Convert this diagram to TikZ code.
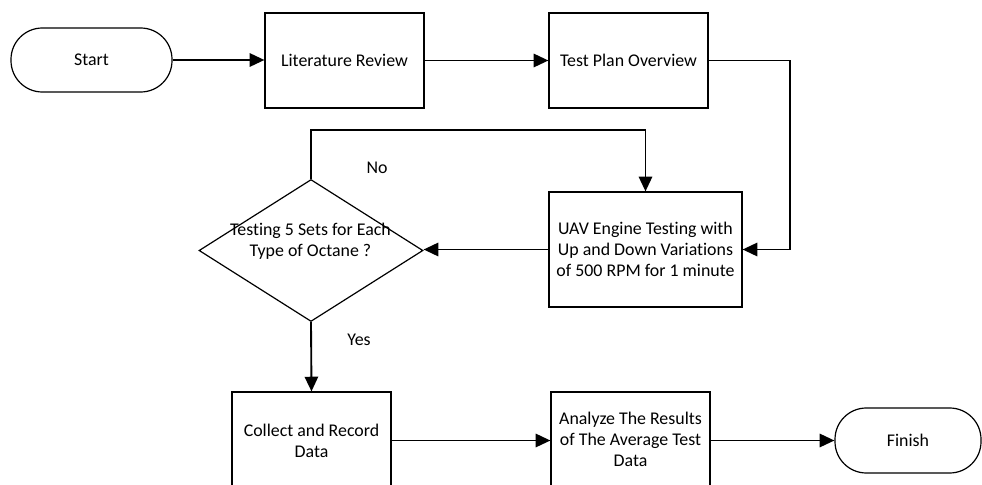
\documentclass[tikz,border=0pt]{standalone}
\usepackage{fontspec}
\setmainfont{Carlito}[Ligatures=NoCommon]
\usetikzlibrary{arrows.meta,shapes.geometric}
\begin{document}
\begin{tikzpicture}[x=0.75pt,y=-0.75pt,
  font=\fontsize{13.4}{15.75}\selectfont,
  box/.style={draw,line width=0.9pt,inner sep=0pt},
  term/.style={box,rounded corners=23.5pt},
  lbl/.style={align=center,inner sep=0pt},
  arr/.style={line width=1.4pt,-{Triangle[length=11pt,width=10pt]}},
  ln/.style={line width=1.4pt}]
\clip (0,0) rectangle (982,485);
\fill[white] (0,0) rectangle (982,485);
% nodes
\node[term,minimum width=120.75pt,minimum height=48pt] (start) at (91.5,60) {Start};
\node[box,minimum width=119.25pt,minimum height=71.25pt] (lit) at (344.5,60.5) {};
\node[lbl] at (344.5,60) {Literature Review};
\node[box,minimum width=119.25pt,minimum height=71.25pt] (tp) at (628.5,60.5) {};
\node[lbl] at (628.5,60) {Test Plan Overview};
\node[box,minimum width=144.75pt,minimum height=86.25pt] (uav) at (645.5,249.5) {};
\node[lbl] at (645.5,249) {UAV Engine Testing with\\Up and Down Variations\\of 500 RPM for 1 minute};
\node[diamond,draw,line width=0.9pt,inner sep=0pt,minimum width=168pt,minimum height=106.5pt] (dec) at (311,250.5) {};
\node[lbl] at (310.5,241.5) {Testing 5 Sets for Each\\Type of Octane ?};
\node[box,minimum width=119.25pt,minimum height=86.25pt] (col) at (311.5,449.5) {};
\node[lbl] at (311.5,440.5) {Collect and Record\\Data};
\node[box,minimum width=119.25pt,minimum height=86.25pt] (ana) at (630.5,449.5) {};
\node[lbl] at (630.5,439.5) {Analyze The Results\\of The Average Test\\Data};
\node[term,minimum width=109.5pt,minimum height=48.75pt] (fin) at (908,440.5) {Finish};
\node[lbl] (no) at (377,168) {No};
\node[lbl] (yes) at (359,339.5) {Yes};
% helper coordinates
\coordinate (c1) at (790,0);
\coordinate (c2) at (0,130);
% connectors
\draw[arr] (start.east) -- (lit.west |- start.east);
\draw[arr] (lit.east) -- (tp.west);
\draw[arr] (tp.east) -- (tp.east -| c1) |- (uav.east);
\draw[arr] (uav.west) -- (dec.east |- uav.west);
\draw[arr] (dec.north) -- (dec.north |- c2) -| (uav.north);
\draw[arr] (dec.south) -- (col.north);
\draw[arr] (col.east |- fin.west) -- (ana.west |- fin.west);
\draw[arr] (ana.east |- fin.west) -- (fin.west);
\end{tikzpicture}
\end{document}
